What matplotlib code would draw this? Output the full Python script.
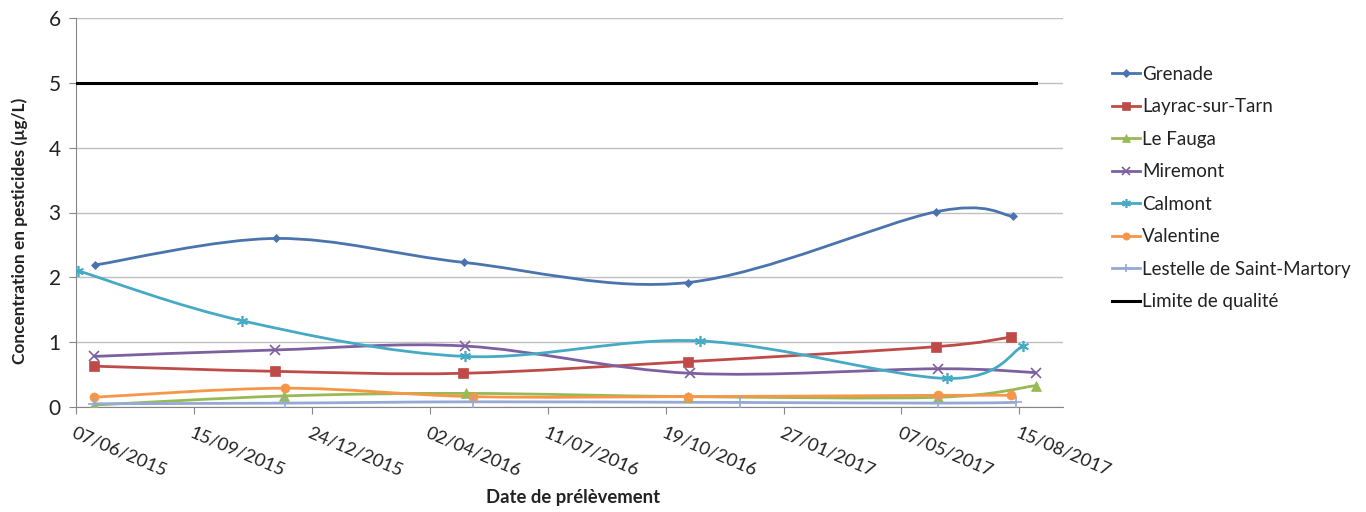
import matplotlib
matplotlib.use("Agg")
import matplotlib.pyplot as plt
import matplotlib.dates as mdates
from matplotlib.path import Path
from matplotlib.patches import PathPatch
from matplotlib.lines import Line2D
import numpy as np
import pandas as pd

plt.rcParams['font.family'] = ['Lato', 'DejaVu Sans']

# ---- data ----
grenade_dates = ["23/06/2015", "24/11/2015", "01/05/2016", "07/11/2016", "05/06/2017", "10/08/2017"]
grenade_vals = [2.19, 2.60, 2.23, 1.92, 3.01, 2.94]

layrac_dates = ["22/06/2015", "23/11/2015", "30/04/2016", "07/11/2016", "05/06/2017", "08/08/2017"]
layrac_vals = [0.63, 0.55, 0.52, 0.70, 0.93, 1.08]

fauga_dates = ["22/06/2015", "30/11/2015", "03/05/2016", "07/11/2016", "07/06/2017", "29/08/2017"]
fauga_vals = [0.03, 0.17, 0.21, 0.16, 0.15, 0.33]

miremont_dates = ["22/06/2015", "23/11/2015", "02/05/2016", "09/11/2016", "07/06/2017", "29/08/2017"]
miremont_vals = [0.78, 0.88, 0.94, 0.52, 0.59, 0.53]

calmont_dates = ["09/06/2015", "26/10/2015", "02/05/2016", "17/11/2016", "15/06/2017", "18/08/2017"]
calmont_vals = [2.10, 1.33, 0.78, 1.02, 0.44, 0.94]

valentine_dates = ["22/06/2015", "01/12/2015", "09/05/2016", "07/11/2016", "07/06/2017", "08/08/2017"]
valentine_vals = [0.15, 0.29, 0.16, 0.16, 0.18, 0.18]

lestelle_dates = ["22/06/2015", "01/12/2015", "09/05/2016", "21/12/2016", "07/06/2017", "12/08/2017"]
lestelle_vals = [0.05, 0.06, 0.08, 0.07, 0.06, 0.07]

limite_dates = ["07/06/2015", "29/08/2017"]
limite_vals = [5, 5]

tick_dates = ["07/06/2015", "15/09/2015", "24/12/2015", "02/04/2016", "11/07/2016",
              "19/10/2016", "27/01/2017", "07/05/2017", "15/08/2017"]
x_min_date = "07/06/2015"
x_max_date = "21/09/2017"

series = [
    ("Grenade", grenade_dates, grenade_vals, "#4A74AE", "D", 4.5),
    ("Layrac-sur-Tarn", layrac_dates, layrac_vals, "#BE4B48", "s", 6.5),
    ("Le Fauga", fauga_dates, fauga_vals, "#98B954", "^", 6.5),
    ("Miremont", miremont_dates, miremont_vals, "#7D60A0", "x", 7),
    ("Calmont", calmont_dates, calmont_vals, "#46AAC5", (6, 2, 0), 8),
    ("Valentine", valentine_dates, valentine_vals, "#F79646", "o", 6.5),
    ("Lestelle de Saint-Martory", lestelle_dates, lestelle_vals, "#94AAD6", "+", 8),
]


def to_num(ds):
    return mdates.date2num(pd.to_datetime(ds, format="%d/%m/%Y"))


def smooth_path(x, y):
    x = np.asarray(x, float)
    y = np.asarray(y, float)
    pts = np.column_stack([x, y])
    n = len(pts)
    verts = [pts[0]]
    codes = [Path.MOVETO]
    for i in range(n - 1):
        p0 = pts[i - 1] if i > 0 else pts[i]
        p1 = pts[i]
        p2 = pts[i + 1]
        p3 = pts[i + 2] if i + 2 < n else pts[i + 1]
        c1 = p1 + (p2 - p0) / 6.0
        c2 = p2 - (p3 - p1) / 6.0
        verts += [c1, c2, p2]
        codes += [Path.CURVE4] * 3
    return Path(verts, codes)


fig = plt.figure(figsize=(13.66, 5.12), dpi=100)
ax = fig.add_axes([76 / 1366, 1 - 407 / 512, (1063 - 76) / 1366, (407 - 18) / 512])

ax.set_xlim(to_num([x_min_date])[0], to_num([x_max_date])[0])
ax.set_ylim(0, 6)

handles = []
for name, ds, vals, color, marker, ms in series:
    xs = to_num(ds)
    patch = PathPatch(smooth_path(xs, vals), facecolor="none", edgecolor=color, lw=2.0, zorder=3)
    ax.add_patch(patch)
    mew = 1.2 if marker in ("x", "+") or isinstance(marker, tuple) else 0.5
    ax.plot(xs, vals, linestyle="none", marker=marker, ms=ms, color=color,
            mec=color, mew=mew, zorder=4)
    handles.append(Line2D([0], [0], color=color, lw=2.0, marker=marker, ms=ms * 0.8,
                          mew=mew, label=name))

ax.plot(to_num(limite_dates), limite_vals, color="black", lw=2.2, zorder=3)
handles.append(Line2D([0], [0], color="black", lw=2.2, label="Limite de qualité"))

ax.set_yticks(range(0, 7))
ax.set_xticks(to_num(tick_dates))
ax.set_xticklabels(tick_dates, rotation=-23, ha="left", va="top", rotation_mode="anchor")
ax.tick_params(axis="x", direction="out", length=5, color="#868686", labelsize=13.2,
               labelcolor="#222222", pad=8)
ax.tick_params(axis="y", direction="out", length=5, color="#868686", labelsize=15,
               labelcolor="#222222", pad=6)

ax.grid(axis="y", color="#C0C0C0", lw=1.0)
ax.set_axisbelow(True)
for side in ("top", "right"):
    ax.spines[side].set_visible(False)
ax.spines["left"].set_color("#868686")
ax.spines["bottom"].set_color("#868686")

fig.text(20 / 1366, 1 - 231 / 512, "Concentration en pesticides (µg/L)", rotation=90,
         ha="center", va="center", fontsize=12.4, fontweight="bold", color="#222222")
fig.text(573 / 1366, 1 - 497 / 512, "Date de prélèvement", ha="center", va="center",
         fontsize=13.3, fontweight="bold", color="#222222")

leg = fig.legend(handles=handles, loc="upper left", bbox_to_anchor=(1104 / 1366, 1 - 58 / 512),
                 frameon=False, fontsize=13.5, handlelength=1.5, handletextpad=0.15,
                 labelspacing=0.83, borderaxespad=0)
for t in leg.get_texts():
    t.set_color("#222222")

fig.savefig("out.png", dpi=100)
